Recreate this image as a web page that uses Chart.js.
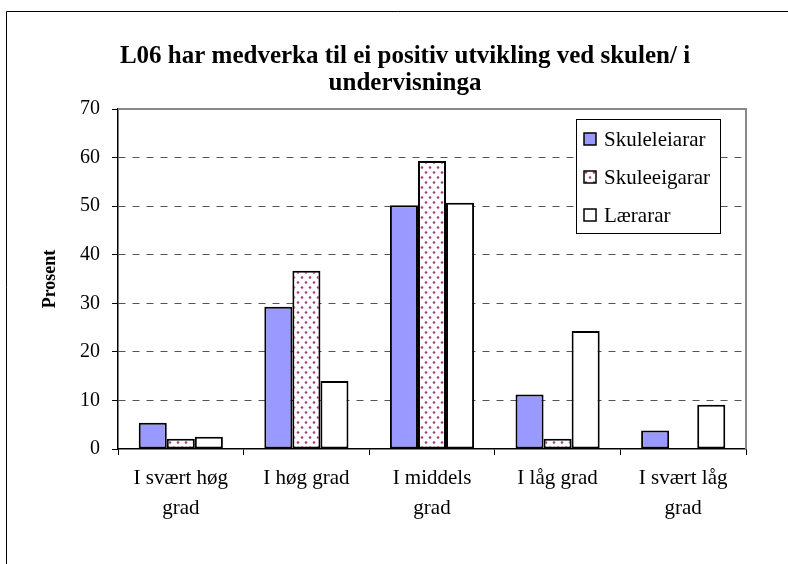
<!DOCTYPE html>
<html>
<head>
<meta charset="utf-8">
<script src="https://cdn.jsdelivr.net/npm/chart.js@4.4.1/dist/chart.umd.min.js"></script>
<style>
  html, body { margin: 0; padding: 0; background: #fff; }
  #wrap { width: 788px; height: 564px; }
</style>
</head>
<body>
<div id="wrap"><canvas id="c" width="788" height="564"></canvas></div>
<script>
const titleLines = ["L06 har medverka til ei positiv utvikling ved skulen/ i", "undervisninga"];
const categories = [["I svært høg", "grad"], "I høg grad", ["I middels", "grad"], "I låg grad", ["I svært låg", "grad"]];
const seriesNames = ["Skuleleiarar", "Skuleeigarar", "Lærarar"];
const skuleleiarar = [5.4, 29.3, 50.2, 11.2, 3.8];
const skuleeigarar = [2.1, 36.7, 59.3, 2.1, 0];
const laerarar = [2.5, 14.0, 50.7, 24.3, 9.1];
const yTicks = [0, 10, 20, 30, 40, 50, 60, 70];
const yAxisTitle = "Prosent";

const canvas = document.getElementById('c');
const ctx0 = canvas.getContext('2d');

function makeDotPattern() {
  const t = document.createElement('canvas');
  t.width = 8; t.height = 10;
  const g = t.getContext('2d');
  g.fillStyle = '#ffffff';
  g.fillRect(0, 0, 8, 10);
  g.fillStyle = '#a83c80';
  g.beginPath(); g.arc(2, 2.5, 1.3, 0, Math.PI * 2); g.fill();
  g.beginPath(); g.arc(6, 7.5, 1.3, 0, Math.PI * 2); g.fill();
  return ctx0.createPattern(t, 'repeat');
}
const dotPattern = makeDotPattern();

const serif = '"Liberation Serif", "Times New Roman", serif';

const decorPlugin = {
  id: 'decor',
  beforeDraw(chart) {
    const ctx = chart.ctx;
    ctx.save();
    ctx.fillStyle = '#fff';
    ctx.fillRect(0, 0, chart.width, chart.height);
    ctx.strokeStyle = '#000';
    ctx.lineWidth = 1;
    ctx.beginPath();
    ctx.moveTo(6.5, chart.height);
    ctx.lineTo(6.5, 11.5);
    ctx.lineTo(chart.width, 11.5);
    ctx.stroke();
    ctx.restore();
  },
  beforeDatasetsDraw(chart) {
    const ctx = chart.ctx;
    const a = chart.chartArea;
    ctx.save();
    ctx.strokeStyle = '#888';
    ctx.lineWidth = 2;
    ctx.beginPath();
    ctx.moveTo(a.left, a.top);
    ctx.lineTo(a.right, a.top);
    ctx.lineTo(a.right, a.bottom);
    ctx.stroke();
    ctx.restore();
  },
  afterDraw(chart) {
    const ctx = chart.ctx;
    ctx.save();
    ctx.fillStyle = '#000';
    ctx.font = 'bold 25px ' + serif;
    ctx.textAlign = 'center';
    ctx.textBaseline = 'alphabetic';
    ctx.fillText(titleLines[0], 405, 63);
    ctx.fillText(titleLines[1], 405, 90);
    const lx = 576.5, ly = 119.5, lw = 144, lh = 114;
    ctx.fillStyle = '#fff';
    ctx.fillRect(lx, ly, lw, lh);
    ctx.strokeStyle = '#000';
    ctx.lineWidth = 1;
    ctx.strokeRect(lx, ly, lw, lh);
    const rows = [139, 177, 215];
    ctx.font = '21px ' + serif;
    ctx.textAlign = 'left';
    ctx.textBaseline = 'middle';
    chart.data.datasets.forEach((ds, i) => {
      const y = rows[i];
      ctx.fillStyle = ds.backgroundColor;
      ctx.fillRect(584, y - 6, 12, 12);
      ctx.strokeStyle = '#000';
      ctx.lineWidth = 1.5;
      ctx.strokeRect(584, y - 6, 12, 12);
      ctx.fillStyle = '#000';
      ctx.fillText(ds.label, 604, y + 1);
    });
    ctx.restore();
  }
};

new Chart(canvas, {
  type: 'bar',
  data: {
    labels: categories,
    datasets: [
      { label: seriesNames[0], data: skuleleiarar, backgroundColor: '#9999ff' },
      { label: seriesNames[1], data: skuleeigarar, backgroundColor: dotPattern },
      { label: seriesNames[2], data: laerarar, backgroundColor: '#ffffff' }
    ]
  },
  options: {
    responsive: false,
    animation: false,
    devicePixelRatio: 1,
    layout: { padding: { left: 0, top: 109, right: 42, bottom: 0 } },
    datasets: {
      bar: {
        borderColor: '#000',
        borderWidth: 2,
        borderSkipped: false,
        barPercentage: 1.0,
        categoryPercentage: 0.67
      }
    },
    plugins: {
      legend: { display: false },
      title: { display: false },
      tooltip: { enabled: false }
    },
    scales: {
      x: {
        afterFit(s) { s.height = 115; },
        grid: {
          display: true,
          drawOnChartArea: false,
          offset: true,
          tickLength: 6,
          color: '#000',
          tickColor: '#000',
          lineWidth: 1
        },
        border: { display: true, color: '#000', width: 1.5 },
        ticks: {
          color: '#000',
          font: { family: serif, size: 21, lineHeight: 1.4 },
          padding: 9,
          maxRotation: 0,
          autoSkip: false
        }
      },
      y: {
        min: 0,
        max: 70,
        afterFit(s) { s.width = 118; },
        afterBuildTicks(s) { s.ticks = yTicks.map(v => ({ value: v })); },
        grid: {
          color: (c) => (c.tick && (c.tick.value === 0 || c.tick.value === 70)) ? 'rgba(0,0,0,0)' : '#555',
          tickColor: '#000',
          tickLength: 6,
          lineWidth: 1,
          tickBorderDash: [0, 0],
          borderDash: [7, 7]
        },
        border: { display: true, color: '#000', width: 1.5, dash: [7, 7] },
        ticks: {
          color: '#000',
          font: { family: serif, size: 20 },
          padding: 12,
          stepSize: 10
        },
        title: {
          display: true,
          text: yAxisTitle,
          color: '#000',
          font: { family: serif, size: 18, weight: 'bold' },
          padding: { top: 40, bottom: 0 }
        }
      }
    }
  },
  plugins: [decorPlugin]
});
</script>
</body>
</html>
